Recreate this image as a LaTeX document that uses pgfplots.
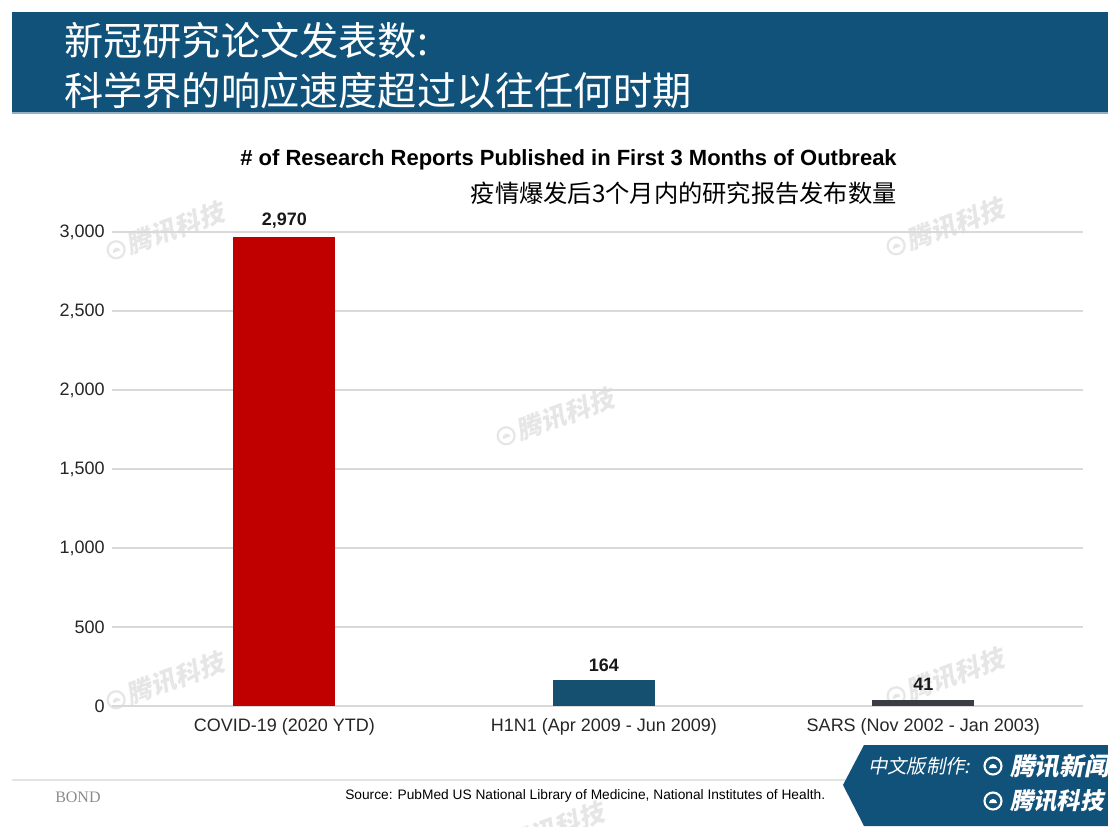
\documentclass[border=0pt]{standalone}
\usepackage{pgfplots}
\pgfplotsset{compat=1.18}
\usepackage{fontspec}
\setmainfont{Liberation Sans}
\newfontfamily\cjk{Noto Sans CJK SC}
\newfontfamily\cjkit[FakeSlant=0.2]{Noto Sans CJK SC}
\newfontfamily\bondfont{Liberation Serif}

\definecolor{banner}{RGB}{17,82,122}
\definecolor{covid}{RGB}{192,0,0}
\definecolor{hone}{RGB}{22,80,112}
\definecolor{sars}{RGB}{58,62,68}
\definecolor{gridc}{RGB}{217,217,217}
\definecolor{wm}{RGB}{230,230,230}

\newcommand{\fs}[1]{\fontsize{#1}{#1}\selectfont}
\newcommand{\logo}[3]{% x, y, colour
  \draw[#3, line width=1.6pt] (#1,#2) circle (8.5);
  \fill[#3] (#1,#2) ++(-4,2) arc (180:360:4) -- cycle;
}

\begin{document}
\begin{tikzpicture}
% page frame, 1 px = 0.75pt
\begin{scope}[x=0.75pt,y=-0.75pt]
  \useasboundingbox (0,0) rectangle (1108,826);
  \fill[white] (0,0) rectangle (1108,826);
  % header
  \fill[banner] (12,12) rectangle (1108,112);
  \draw[banner!45, line width=1pt] (12,113) -- (1108,113);
  \node[anchor=west, text=white, font=\cjk\fs{29.4pt}, inner sep=0pt] at (64,41) {新冠研究论文发表数:};
  \node[anchor=west, text=white, font=\cjk\fs{29.4pt}, inner sep=0pt] at (64,91) {科学界的响应速度超过以往任何时期};
  % chart titles
  \node[anchor=east, font=\bfseries\fs{16.5pt}, inner sep=0pt] at (897,160) {\# of Research Reports Published in First 3 Months of Outbreak};
  \node[anchor=east, font=\cjk\fs{18.2pt}, inner sep=0pt] at (897,193) {疫情爆发后3个月内的研究报告发布数量};
  % watermarks
  \foreach \wx/\wy in {165/232, 945/228, 555/418, 165/682, 945/678, 545/832}{
    \begin{scope}[shift={(\wx,\wy)}, rotate=20, transform shape]
      \logo{-52}{0}{wm}
      \node[anchor=west, text=wm, font=\cjkit\bfseries\fs{19pt}, inner sep=0pt] at (-40,0) {腾讯科技};
    \end{scope}
  }
  % footer
  \draw[gridc!70, line width=1pt] (12,780) -- (850,780);
  \node[anchor=west, text=black!45, font=\bondfont\fs{12pt}, inner sep=0pt] at (55,797) {BOND};
  \node[anchor=west, font=\fs{10.3pt}, inner sep=0pt] at (345,796) {Source: PubMed US National Library of Medicine, National Institutes of Health.};
  \fill[banner] (843,785) -- (864,745) -- (1108,745) -- (1108,826) -- (864,826) -- cycle;
  \node[anchor=west, text=white, font=\cjkit\fs{14.5pt}, inner sep=0pt] at (868,766) {中文版制作:};
  \logo{993}{766}{white}
  \node[anchor=west, text=white, font=\cjkit\bfseries\fs{18.5pt}, inner sep=0pt] at (1010,766) {腾讯新闻};
  \logo{993}{801}{white}
  \node[anchor=west, text=white, font=\cjkit\bfseries\fs{17.5pt}, inner sep=0pt] at (1010,801) {腾讯科技};
\end{scope}

\begin{axis}[
  at={(84pt,-529.5pt)}, anchor=south west,
  scale only axis, width=728.25pt, height=355.5pt,
  ymin=0, ymax=3000, xmin=-0.54, xmax=2.5,
  ybar, bar width=76.5pt, bar shift=0pt,
  axis line style={draw=none}, major tick length=0pt,
  ymajorgrids, grid style={draw=gridc, line width=1pt},
  ytick={0,500,1000,1500,2000,2500,3000},
  xtick={0,1,2},
  xticklabels={COVID-19 (2020 YTD), H1N1 (Apr 2009 - Jun 2009), SARS (Nov 2002 - Jan 2003)},
  yticklabel style={font=\fs{13.5pt}, text=black!85, xshift=-2pt},
  xticklabel style={font=\fs{13.5pt}, text=black!85, yshift=-6pt},
  clip=false,
  nodes near coords,
  nodes near coords style={font=\bfseries\fs{13.5pt}, text=black!90, yshift=3pt},
  /pgf/number format/1000 sep={,},
  /pgf/number format/assume math mode=true,
]
\addplot[fill=covid, draw=none] coordinates {(0,2970)};
\addplot[fill=hone, draw=none] coordinates {(1,164)};
\addplot[fill=sars, draw=none] coordinates {(2,41)};
\end{axis}
\end{tikzpicture}
\end{document}
